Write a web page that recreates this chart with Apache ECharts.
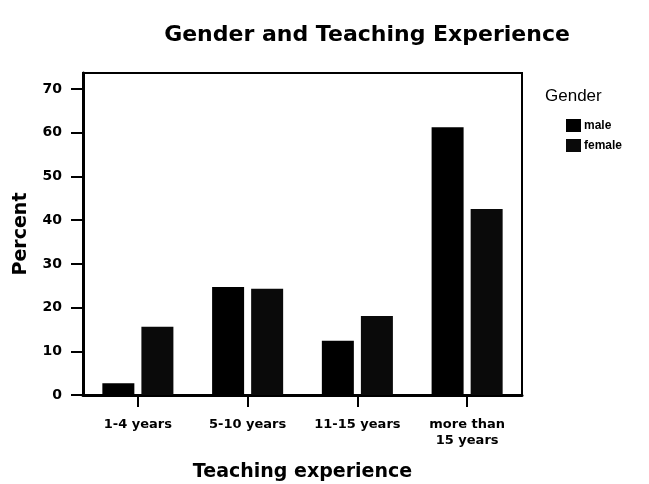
<!DOCTYPE html>
<html>
<head>
<meta charset="utf-8">
<script src="https://cdn.jsdelivr.net/npm/echarts@6/dist/echarts.min.js"></script>
<style>
  html, body { margin: 0; padding: 0; background: #fff; }
  #chart { width: 649px; height: 484px; }
</style>
</head>
<body>
<div id="chart"></div>
<script>
var categories = ['1-4 years', '5-10 years', '11-15 years', 'more than\n15 years'];
var maleValues = [2.7, 24.7, 12.4, 61.3];
var femaleValues = [15.6, 24.3, 18.1, 42.6];
var seriesNames = ['male', 'female'];

var boldFam = '"DejaVu Sans", Verdana, sans-serif';
var plainFam = '"Liberation Sans", Arial, sans-serif';

var myChart = echarts.init(document.getElementById('chart'));

option = {
    backgroundColor: '#fff',
    animation: false,
    title: [{
        text: 'Gender and Teaching Experience',
        left: 362,
        top: 19,
        textAlign: 'center',
        textStyle: { fontFamily: boldFam, fontSize: 22, fontWeight: 'bold', color: '#000' }
    }, {
        text: 'Gender',
        left: 540,
        top: 83,
        textStyle: { fontFamily: plainFam, fontSize: 17, fontWeight: 'normal', color: '#000' }
    }],
    legend: {
        data: seriesNames,
        orient: 'vertical',
        left: 561,
        top: 114,
        itemWidth: 15,
        itemHeight: 13,
        itemGap: 7,
        icon: 'rect',
        textStyle: { fontFamily: plainFam, fontSize: 12, fontWeight: 'bold', color: '#000', padding: [0, 0, 0, -2] }
    },
    grid: {
        left: 83,
        right: 127,
        top: 73,
        bottom: 89,
        outerBoundsMode: 'none',
        containLabel: false,
        show: true,
        borderColor: '#000',
        borderWidth: 2
    },
    xAxis: {
        type: 'category',
        data: categories,
        name: 'Teaching experience',
        nameLocation: 'middle',
        nameGap: 68,
        nameTextStyle: { fontFamily: boldFam, fontSize: 19, fontWeight: 'bold', color: '#000' },
        axisLine: { lineStyle: { color: '#000', width: 3 } },
        axisTick: { show: true, alignWithLabel: true, length: 12, lineStyle: { color: '#000', width: 2 } },
        axisLabel: { fontFamily: boldFam, fontSize: 13, fontWeight: 'bold', color: '#000', margin: 22, lineHeight: 16, interval: 0 }
    },
    yAxis: {
        type: 'value',
        min: 0,
        max: 73.7,
        interval: 10,
        name: 'Percent',
        nameLocation: 'middle',
        nameGap: 52,
        nameTextStyle: { fontFamily: boldFam, fontSize: 19, fontWeight: 'bold', color: '#000' },
        axisLine: { show: true, lineStyle: { color: '#000', width: 3 } },
        axisTick: { show: true, length: 12, lineStyle: { color: '#000', width: 2 } },
        axisLabel: { fontFamily: boldFam, fontSize: 14, fontWeight: 'bold', color: '#000', margin: 21, showMaxLabel: false },
        splitLine: { show: false }
    },
    series: [{
        name: seriesNames[0],
        type: 'bar',
        data: maleValues,
        barWidth: 32,
        barGap: '22%',
        itemStyle: { color: '#000' }
    }, {
        name: seriesNames[1],
        type: 'bar',
        data: femaleValues,
        barWidth: 32,
        itemStyle: { color: '#0a0a0a' }
    }]
};

myChart.setOption(option);
</script>
</body>
</html>
